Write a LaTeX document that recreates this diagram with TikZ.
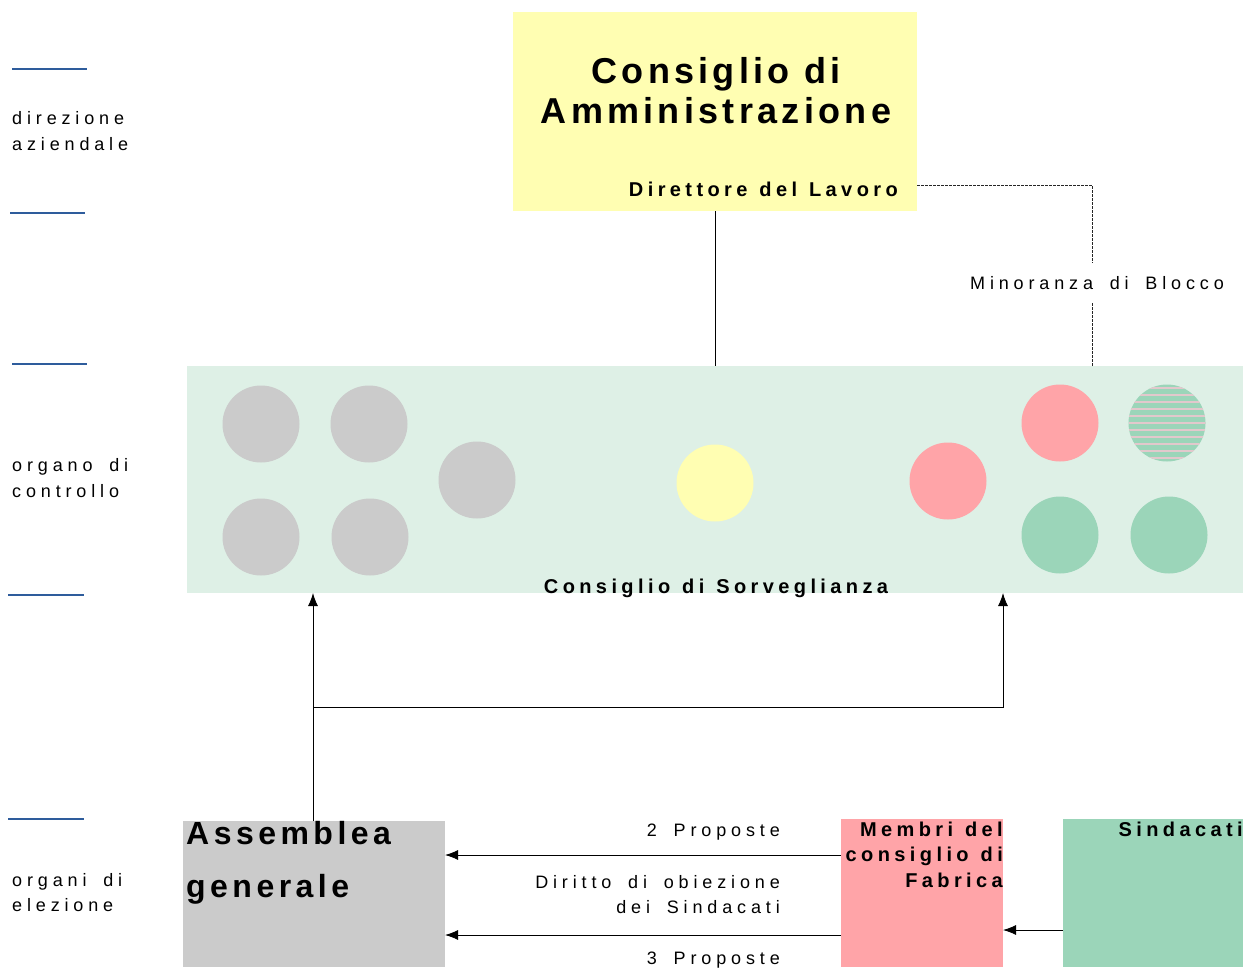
\documentclass[tikz,border=0pt]{standalone}
\usepackage{fontspec}
\usepackage{tikz}
\usetikzlibrary{calc,arrows.meta}
\newfontfamily\thinfont[LetterSpace=27, WordSpace=1.7]{Liberation Sans}
\newfontfamily\bwidefont[LetterSpace=22, WordSpace=1.2]{Liberation Sans}
\newfontfamily\bmidfont[LetterSpace=14]{Liberation Sans}
\newfontfamily\bbigfont[LetterSpace=12]{Liberation Sans}
\definecolor{ink}{HTML}{000000}
\definecolor{tickblue}{HTML}{2E5C9C}
\definecolor{yellowc}{HTML}{FFFEB2}
\definecolor{panel}{HTML}{DEF0E6}
\definecolor{grayc}{HTML}{CBCBCB}
\definecolor{pinkc}{HTML}{FFA4A8}
\definecolor{greenc}{HTML}{9BD5B9}
\definecolor{hatchc}{HTML}{E2C8CC}
\tikzset{
  box/.style={inner sep=0pt, outer sep=0pt, anchor=north west},
  dot/.style={circle, inner sep=0pt, minimum size=77pt},
  line/.style={draw=ink, line width=0.9pt},
  dotline/.style={draw=ink!85, line width=0.9pt, dash pattern=on 2.5pt off 1.5pt},
  arr/.style={line, -{Latex[length=13pt,width=10pt]}},
  tick/.style={draw=tickblue, line width=1.1pt},
  lbl/.style={font=\thinfont\fontsize{18}{22}\selectfont, inner sep=0pt},
  blbl/.style={font=\bwidefont\bfseries\fontsize{20}{24}\selectfont, inner sep=0pt},
  mlbl/.style={font=\bmidfont\bfseries\fontsize{32}{36}\selectfont, inner sep=0pt},
  tlbl/.style={font=\bbigfont\bfseries\fontsize{36}{40}\selectfont, inner sep=0pt}
}

\begin{document}
\begin{tikzpicture}[x=1pt, y=-1pt]
  \useasboundingbox (0,0) rectangle (1256,967);

  % level marks on the left
  \foreach \yy/\xa/\xb in {69/12/87, 213/10/85, 364/12/87, 595/8/84, 819/8/84}
    \draw[tick] (\xa,\yy) -- (\xb,\yy);
  \node[lbl, anchor=base west] (dir1) at (12,124) {direzione};
  \node[lbl, anchor=base west] (dir2) at (12,150) {aziendale};
  \node[lbl, anchor=base west] (org1) at (12,471) {organo di};
  \node[lbl, anchor=base west] (org2) at (12,497) {controllo};
  \node[lbl, anchor=base west] (ele1) at (12,886) {organi di};
  \node[lbl, anchor=base west] (ele2) at (12,911) {elezione};

  % boxes
  \node[box, fill=yellowc, minimum width=404pt, minimum height=199pt] (cda) at (513,12) {};
  \node[box, fill=panel, minimum width=1056pt, minimum height=227pt] (cds) at (187,366) {};
  \node[box, fill=grayc, minimum width=262pt, minimum height=146pt] (ag) at (183,821) {};
  \node[box, fill=pinkc, minimum width=162pt, minimum height=148pt] (mcf) at (841,819) {};
  \node[box, fill=greenc, minimum width=180pt, minimum height=148pt] (sind) at (1063,819) {};

  \node[tlbl, anchor=base] (cda1) at (716,83) {Consiglio di};
  \node[tlbl, anchor=base] (cda2) at (716,123) {Amministrazione};
  \node[blbl, anchor=base east] (dl) at (898,196) {Direttore del Lavoro};
  \node[blbl, anchor=base] (cdst) at (716,593) {Consiglio di Sorveglianza};
  \node[mlbl, anchor=base west] (ag1) at (186,844) {Assemblea};
  \node[mlbl, anchor=base west] (ag2) at (186,897) {generale};
  \node[blbl, anchor=base east] (mcf1) at (1003,836) {Membri del};
  \node[blbl, anchor=base east] (mcf2) at (1003,861) {consiglio di};
  \node[blbl, anchor=base east] (mcf3) at (1003,887) {Fabrica};
  \node[blbl, anchor=base east] (sind1) at (1243,836) {Sindacati};

  % members of the supervisory board
  \node[dot, fill=grayc] (g1) at (261,424) {};
  \node[dot, fill=grayc] (g2) at (369,424) {};
  \node[dot, fill=grayc] (g3) at (261,537) {};
  \node[dot, fill=grayc] (g4) at (370,537) {};
  \node[dot, fill=grayc] (g5) at (477,480) {};
  \node[dot, fill=yellowc] (y1) at (715,483) {};
  \node[dot, fill=pinkc] (p1) at (948,481) {};
  \node[dot, fill=pinkc] (p2) at (1060,423) {};
  \node[dot, fill=greenc, path picture={
      \foreach \k in {-35,-28,...,35}
        \draw[draw=hatchc, line width=1.1pt]
          ([yshift=\k pt]path picture bounding box.west) -- ++(80pt,0);
    }] (h1) at (1167,423) {};
  \node[dot, fill=greenc] (gr1) at (1060,535) {};
  \node[dot, fill=greenc] (gr2) at (1169,535) {};

  % connections
  \draw[line] (cda.south) -- (cds.north);
  \coordinate (mb) at (1092,185);
  \node[lbl, minimum height=40pt] (mino) at (1097,283) {Minoranza di Blocco};
  \draw[dotline] (cda.east |- mb) -- (mb) -- (mino.north -| mb);
  \draw[dotline] (mino.south -| mb) -- (cds.north -| mb);

  \coordinate (split) at (313,707);
  \draw[arr] (ag.north -| split) -- (cds.south -| split);
  \draw[arr] (split) -| (cds.south -| mcf.north east);

  \coordinate (pr2) at (841,855);
  \coordinate (pr3) at (841,935);
  \coordinate (sd) at (1063,930);
  \draw[arr] (pr2) -- (pr2 -| ag.east);
  \draw[arr] (pr3) -- (pr3 -| ag.east);
  \draw[arr] (sd) -- (sd -| mcf.east);

  \node[lbl, anchor=base east] (l2) at (780,836) {2 Proposte};
  \node[lbl, anchor=base east] (ld1) at (780,888) {Diritto di obiezione};
  \node[lbl, anchor=base east] (ld2) at (780,913) {dei Sindacati};
  \node[lbl, anchor=base east] (l3) at (780,964) {3 Proposte};
\end{tikzpicture}
\end{document}
